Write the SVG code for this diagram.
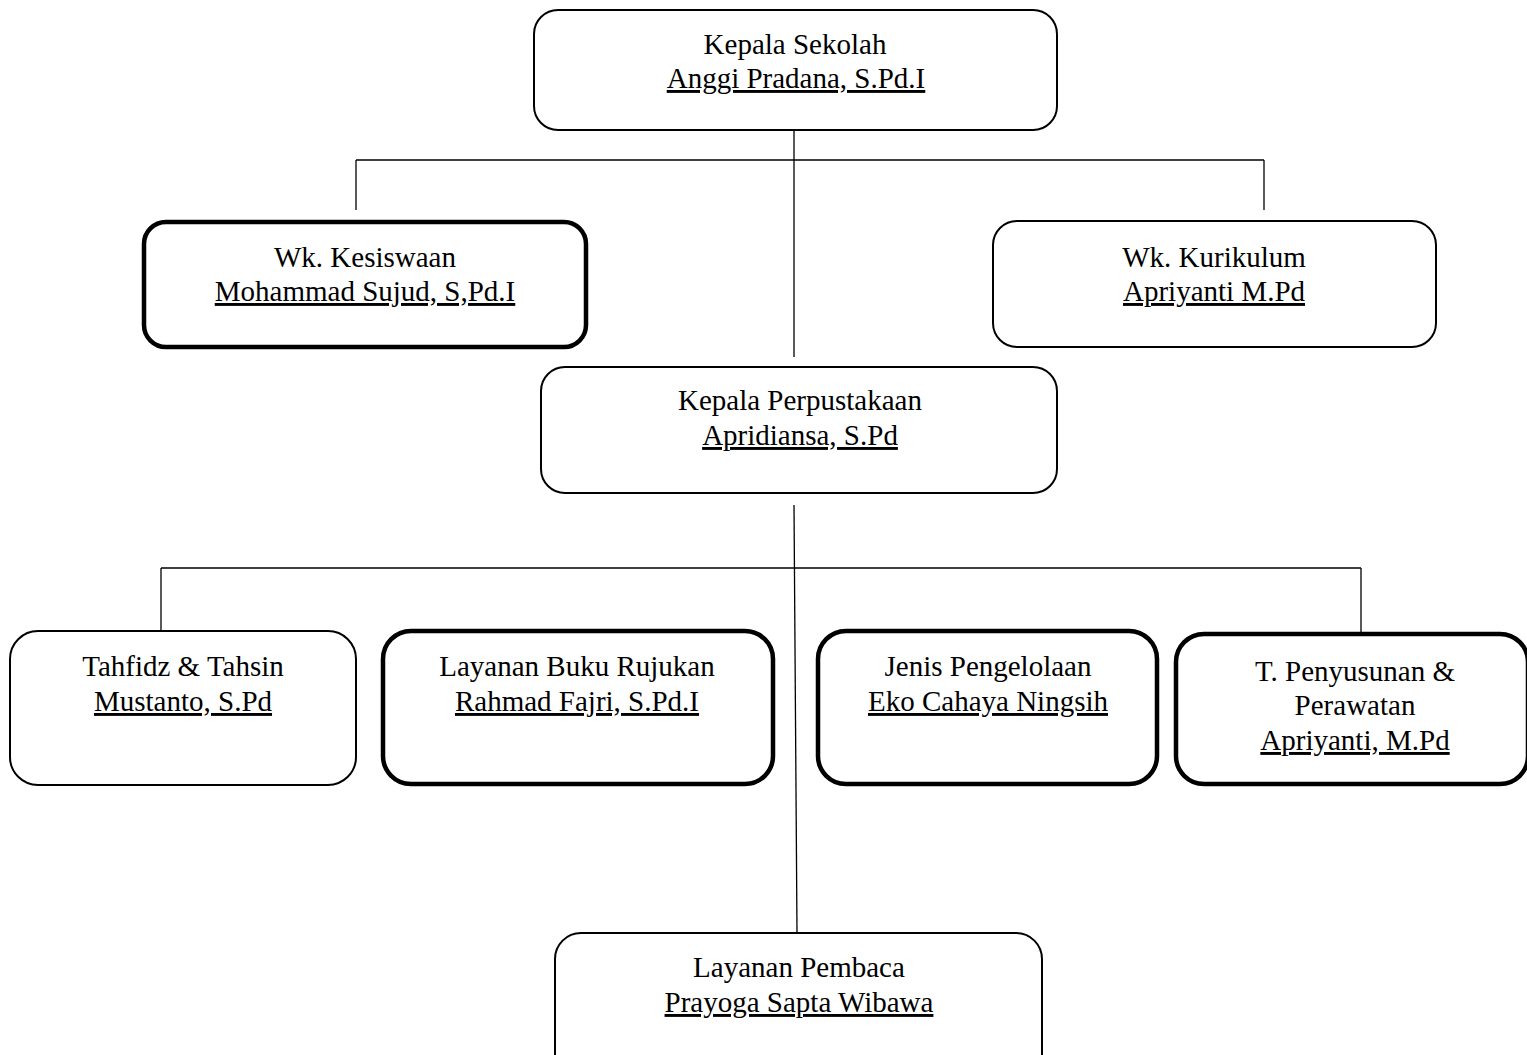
<svg xmlns="http://www.w3.org/2000/svg" width="1527" height="1055" viewBox="0 0 1527 1055">
<style>
.box{fill:#fff;stroke:#000;stroke-width:2}
.thick{stroke-width:4.5}
.t{font-family:"Liberation Serif","Times New Roman",serif;font-size:29px;fill:#000;text-anchor:middle}
.u{text-decoration:underline}
.c{stroke:#000;stroke-width:1.3;fill:none}
</style>
<rect width="1527" height="1055" fill="#fff"/>
<g id="connectors">
<line class="c" x1="794" y1="130" x2="794" y2="357"/>
<line class="c" x1="356" y1="160" x2="1264" y2="160"/>
<line class="c" x1="356" y1="160" x2="356" y2="210"/>
<line class="c" x1="1264" y1="160" x2="1264" y2="210"/>
<line class="c" x1="794" y1="505" x2="797" y2="932"/>
<line class="c" x1="161" y1="568" x2="1361" y2="568"/>
<line class="c" x1="161" y1="568" x2="161" y2="631"/>
<line class="c" x1="1361" y1="568" x2="1361" y2="634"/>
</g>
<g id="kepala-sekolah">
<rect class="box" x="534" y="10" width="523" height="120" rx="24"/>
<text class="t" x="795" y="54">Kepala Sekolah</text>
<text class="t u" x="796" y="88">Anggi Pradana, S.Pd.I</text>
</g>
<g id="wk-kesiswaan">
<rect class="box thick" x="144" y="222" width="442" height="125" rx="22"/>
<text class="t" x="365" y="267">Wk. Kesiswaan</text>
<text class="t u" x="365" y="301">Mohammad Sujud, S,Pd.I</text>
</g>
<g id="wk-kurikulum">
<rect class="box" x="993" y="221" width="443" height="126" rx="24"/>
<text class="t" x="1214" y="267">Wk. Kurikulum</text>
<text class="t u" x="1214" y="301">Apriyanti M.Pd</text>
</g>
<g id="kepala-perpustakaan">
<rect class="box" x="541" y="367" width="516" height="126" rx="24"/>
<text class="t" x="800" y="410">Kepala Perpustakaan</text>
<text class="t u" x="800" y="445">Apridiansa, S.Pd</text>
</g>
<g id="tahfidz">
<rect class="box" x="10" y="631" width="346" height="154" rx="28"/>
<text class="t" x="183" y="676">Tahfidz &amp; Tahsin</text>
<text class="t u" x="183" y="711">Mustanto, S.Pd</text>
</g>
<g id="layanan-buku">
<rect class="box thick" x="383" y="631" width="390" height="153" rx="28"/>
<text class="t" x="577" y="676">Layanan Buku Rujukan</text>
<text class="t u" x="577" y="711">Rahmad Fajri, S.Pd.I</text>
</g>
<g id="jenis-pengelolaan">
<rect class="box thick" x="818" y="631" width="339" height="153" rx="28"/>
<text class="t" x="988" y="676">Jenis Pengelolaan</text>
<text class="t u" x="988" y="711">Eko Cahaya Ningsih</text>
</g>
<g id="penyusunan">
<rect class="box thick" x="1176" y="634" width="352" height="150" rx="28"/>
<text class="t" x="1355" y="681">T. Penyusunan &amp;</text>
<text class="t" x="1355" y="715">Perawatan</text>
<text class="t u" x="1355" y="750">Apriyanti, M.Pd</text>
</g>
<g id="layanan-pembaca">
<rect class="box" x="555" y="933" width="487" height="150" rx="26"/>
<text class="t" x="799" y="977">Layanan Pembaca</text>
<text class="t u" x="799" y="1012">Prayoga Sapta Wibawa</text>
</g>
</svg>
